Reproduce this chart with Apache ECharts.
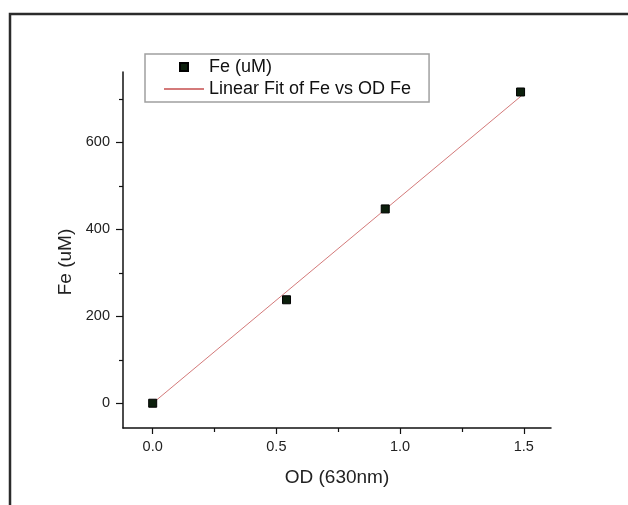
<!DOCTYPE html>
<html>
<head>
<meta charset="utf-8">
<script src="https://cdn.jsdelivr.net/npm/echarts@6/dist/echarts.min.js"></script>
<style>
html,body{margin:0;padding:0;background:#fff;}
#chart{width:628px;height:505px;}
</style>
</head>
<body>
<div id="chart"></div>
<script>
// Data
const odValues = [0, 0.541, 0.94, 1.487];
const feValues = [0, 238, 447, 716];
const fitOd = [0, 1.49];
const fitFe = [0, 707];
const xMajorTicks = [0, 0.5, 1.0, 1.5];
const xMinorTicks = [0.25, 0.75, 1.25];
const yMajorTicks = [0, 200, 400, 600];
const yMinorTicks = [100, 300, 500, 700];
const seriesNames = ['Fe (uM)', 'Linear Fit of Fe vs OD Fe'];
const xTitle = 'OD (630nm)';
const yTitle = 'Fe (uM)';

const FONT = '"Liberation Sans", Arial, sans-serif';
const xMin = -0.12, xMax = 1.61, yMin = -57, yMax = 762;

const chart = echarts.init(document.getElementById('chart'), null, {renderer: 'canvas'});

const mainLine = {show: true, onZero: false, lineStyle: {color: '#111', width: 1.5}};
const hiddenLine = {show: false, onZero: false};

chart.setOption({
  backgroundColor: '#fff',
  animation: false,
  textStyle: {fontFamily: FONT},
  grid: {left: 123, right: 77, top: 72, bottom: 77, containLabel: false},
  legend: {
    orient: 'vertical',
    left: 145,
    top: 54,
    align: 'left',
    padding: [4, 18, 4, 18],
    itemGap: 4,
    itemWidth: 40,
    itemHeight: 8,
    symbolKeepAspect: true,
    borderColor: '#a0a0a0',
    borderWidth: 1.5,
    textStyle: {fontFamily: FONT, fontSize: 18, color: '#111', lineHeight: 18},
    data: [
      {name: seriesNames[0], icon: 'path://M0,0L10,0L10,10L0,10Z'},
      {name: seriesNames[1], itemStyle: {opacity: 0}}
    ]
  },
  xAxis: [
    {
      type: 'value', min: xMin, max: xMax, position: 'bottom',
      splitLine: {show: false}, axisLine: mainLine,
      axisTick: {show: true, customValues: xMajorTicks, length: 6, lineStyle: {color: '#111', width: 1.2}},
      axisLabel: {customValues: xMajorTicks, formatter: v => v.toFixed(1), fontSize: 14.5, color: '#222', margin: 11, fontFamily: FONT},
      name: xTitle, nameLocation: 'middle', nameGap: 40,
      nameTextStyle: {fontSize: 19, color: '#222', fontFamily: FONT}
    },
    {
      type: 'value', min: xMin, max: xMax, position: 'bottom',
      splitLine: {show: false}, axisLine: hiddenLine,
      axisTick: {show: true, customValues: xMinorTicks, length: 4, lineStyle: {color: '#111', width: 1.2}},
      axisLabel: {show: false}
    }
  ],
  yAxis: [
    {
      type: 'value', min: yMin, max: yMax, position: 'left',
      splitLine: {show: false}, axisLine: mainLine,
      axisTick: {show: true, customValues: yMajorTicks, length: 7, lineStyle: {color: '#111', width: 1.2}},
      axisLabel: {customValues: yMajorTicks, formatter: v => String(Math.round(v)), fontSize: 14.5, color: '#222', margin: 13, fontFamily: FONT},
      name: yTitle, nameLocation: 'middle', nameGap: 47, nameRotate: 90,
      nameTextStyle: {fontSize: 19, color: '#222', fontFamily: FONT, padding: [0, 24, 0, 0]}
    },
    {
      type: 'value', min: yMin, max: yMax, position: 'left',
      splitLine: {show: false}, axisLine: hiddenLine,
      axisTick: {show: true, customValues: yMinorTicks, length: 4, lineStyle: {color: '#111', width: 1.2}},
      axisLabel: {show: false}
    }
  ],
  series: [
    {
      name: seriesNames[0],
      type: 'scatter',
      xAxisIndex: 0, yAxisIndex: 0,
      symbol: 'rect',
      symbolSize: 8,
      z: 5,
      itemStyle: {color: '#0c1f0c', borderColor: '#000', borderWidth: 1, opacity: 1},
      data: odValues.map((x, i) => [x, feValues[i]])
    },
    {
      name: seriesNames[1],
      type: 'line',
      xAxisIndex: 0, yAxisIndex: 0,
      symbol: 'none',
      z: 3,
      lineStyle: {color: '#d47a7a', width: 1},
      itemStyle: {color: '#d47a7a'},
      data: fitOd.map((x, i) => [x, fitFe[i]])
    }
  ],
  graphic: [
    {
      type: 'polyline',
      silent: true,
      shape: {points: [[10, 505], [10, 14], [628, 14]]},
      style: {stroke: '#2b2b2b', lineWidth: 2.5, fill: null}
    }
  ]
});
</script>
</body>
</html>
